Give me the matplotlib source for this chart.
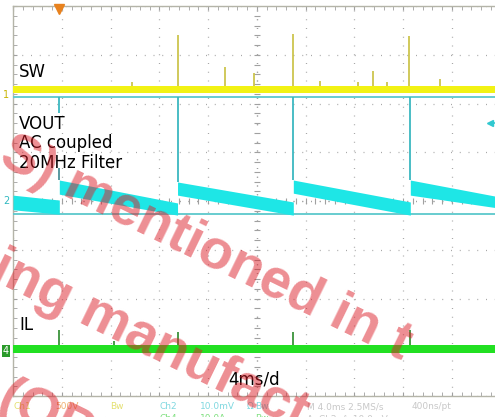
import numpy as np
import matplotlib.pyplot as plt

# scope settings: 4 ms/div, 10 x 8 divisions
ms_per_div = 4.0
t_span = 40.0

# event times (ms) where the switch fires
events = [3.8, 13.5, 23.0, 32.6]

# SW (ch1), in divisions from centre
sw_lo, sw_hi = 2.22, 2.36
sw_spike_t = [13.5, 17.4, 23.0, 29.5, 32.5, 9.8, 19.8, 25.2, 28.3, 30.7, 35.0]
sw_spike_top = [3.41, 2.75, 3.43, 2.67, 3.38, 2.45, 2.62, 2.47, 2.45, 2.45, 2.50]

# VOUT (ch2) sawtooth segments: start/end times, band top/bottom at start and end
seg_t0 = [0.0, 3.8, 13.5, 23.0, 32.6]
seg_t1 = [3.8, 13.5, 23.0, 32.6, 40.0]
seg_top0 = [0.12, 0.43, 0.39, 0.43, 0.43]
seg_top1 = [0.02, -0.04, -0.02, -0.02, 0.08]
seg_bot0 = [-0.18, 0.14, 0.12, 0.16, 0.12]
seg_bot1 = [-0.27, -0.29, -0.29, -0.29, -0.15]
vout_clip_hi = 2.13
vout_clip_lo = -0.27

# IL (ch4)
il_lo, il_hi = -3.12, -2.95
il_spike_t = [3.8, 13.5, 23.0, 32.6, 8.3]
il_spike_top = [-2.65, -2.69, -2.69, -2.65, -2.87]

W, H = 495, 417
fig = plt.figure(figsize=(W / 100, H / 100), dpi=100)
fig.patch.set_facecolor('white')

def fx(px):
    return px / W

def fy(py):
    return 1 - py / H

ax = fig.add_axes([fx(13), fy(396), 487.5 / W, 390 / H])
ax.set_xlim(0, t_span)
ax.set_ylim(-4, 4)
ax.set_facecolor('white')

# graticule
ax.set_xticks(np.arange(0, t_span + 0.1, ms_per_div))
ax.set_yticks(np.arange(-4, 4.1, 1))
ax.set_xticks(np.arange(0, t_span + 0.1, ms_per_div / 5), minor=True)
ax.set_yticks(np.arange(-4, 4.1, 0.2), minor=True)
ax.grid(True, which='major', color='#a8a8a8', linestyle=(0, (0.8, 6.2)), linewidth=0.9)
ax.tick_params(which='both', direction='in', top=True, right=True, length=3,
               color='#a0a0a0', labelbottom=False, labelleft=False)
for s in ax.spines.values():
    s.set_color('#b4b4a8')
    s.set_linewidth(1.0)
ax.axhline(0, color='#a0a0a0', lw=0.9, ls=(0, (0.8, 6.2)))
ax.axvline(20, color='#a0a0a0', lw=0.9, ls=(0, (0.8, 6.2)))
mt = np.arange(0, t_span + 0.1, ms_per_div / 5)
ax.plot(mt, np.zeros_like(mt), ls='none', marker='|', ms=4, color='#a0a0a0', mew=0.8)
mv = np.arange(-4, 4.1, 0.2)
ax.plot(np.full_like(mv, 20), mv, ls='none', marker='_', ms=4, color='#a0a0a0', mew=0.8)

# SW trace
ax.fill_between([0, t_span], sw_lo, sw_hi, color='#f2f214', lw=0, zorder=3)
ax.vlines(sw_spike_t, sw_hi, sw_spike_top, color='#c8c040', lw=1.2, zorder=3)

# VOUT trace
ax.axhline(vout_clip_hi, color='#5cc8cc', lw=1.3, zorder=3)
ax.axhline(vout_clip_lo, color='#5cc8cc', lw=1.3, zorder=3)
for a, b, t0v, t1v, b0v, b1v in zip(seg_t0, seg_t1, seg_top0, seg_top1, seg_bot0, seg_bot1):
    ax.fill_between([a, b], [b0v, b1v], [t0v, t1v], color='#1ee6e6', lw=0, zorder=4)
ax.vlines(events[1:], [seg_top0[2], seg_top0[3], seg_top0[4]], vout_clip_hi,
          color='#3cb8c0', lw=1.3, zorder=4)
ax.vlines(events[0], 1.8, vout_clip_hi, color='#3cb8c0', lw=1.3, zorder=4)
ax.vlines(events[0], seg_top0[1], 0.68, color='#3c8890', lw=1.2, zorder=4)
ax.plot([39.1], [1.6], marker='<', ms=5, color='#30c8d0', clip_on=False, zorder=5)
ax.plot([39.1, 40], [1.6, 1.6], color='#30c8d0', lw=1.2, clip_on=False, zorder=5)

# IL trace
ax.fill_between([0, t_span], il_lo, il_hi, color='#22e022', lw=0, zorder=3)
ax.vlines(il_spike_t, il_hi, il_spike_top, color='#2a8a2a', lw=1.2, zorder=3)

# trigger marker
ax.plot([events[0]], [3.93], marker='v', ms=7, color='#e8821e', clip_on=False, zorder=6)

# channel markers
fig.text(fx(3), fy(95), '1', color='#c8b400', fontsize=7, va='center')
fig.text(fx(3), fy(201), '2', color='#30b8c0', fontsize=7, va='center')
fig.text(fx(3), fy(351), '4', color='white', fontsize=7, va='center',
         bbox=dict(boxstyle='square,pad=0.1', fc='#2a9a2a', ec='none'))

# labels
lab = dict(fontsize=12, color='black', family='DejaVu Sans')
fig.text(fx(19), fy(77), 'SW', **lab)
fig.text(fx(19), fy(129), 'VOUT', **lab)
fig.text(fx(19), fy(148), 'AC coupled', **lab)
fig.text(fx(19), fy(168), '20MHz Filter', **lab)
fig.text(fx(19), fy(330), 'IL', **lab)
fig.text(fx(228), fy(385), '4ms/d', **lab)

# status bar
st = dict(fontsize=6.5, va='baseline')
fig.text(fx(14), fy(409), 'Ch1', color='#e4e070', **st)
fig.text(fx(55), fy(409), '500V', color='#f0b070', **st)
fig.text(fx(110), fy(409), 'Bw', color='#e4e070', **st)
fig.text(fx(160), fy(409), 'Ch2', color='#80d8e0', **st)
fig.text(fx(200), fy(409), '10.0mV', color='#80d8e0', **st)
fig.text(fx(247), fy(409), 'Ω', color='#80d8e0', **st)
fig.text(fx(255), fy(409), 'Bw', color='#80d8e0', **st)
fig.text(fx(307), fy(409), 'M 4.0ms 2.5MS/s', color='#c8c8c8', **st)
fig.text(fx(412), fy(409), '400ns/pt', color='#c8c8c8', **st)
fig.text(fx(160), fy(421), 'Ch4', color='#80e080', **st)
fig.text(fx(200), fy(421), '10.0A', color='#80e080', **st)
fig.text(fx(255), fy(421), 'Bw', color='#80e080', **st)
fig.text(fx(307), fy(421), 'A  Ch2  ∫  10.0mV', color='#c8c8c8', **st)

# watermark
wm = dict(fontsize=40, color='#dc1e28', alpha=0.5, weight='bold', family='Liberation Sans',
          rotation=-26, rotation_mode='anchor', ha='left', va='baseline', zorder=10)
fig.text(fx(-3), fy(163), 'S) mentioned in t', **wm)
fig.text(fx(-12), fy(278), 'ing manufact', **wm)
fig.text(fx(-5), fy(408), '(OPE', **wm)

fig.savefig('out.png', dpi=100)
